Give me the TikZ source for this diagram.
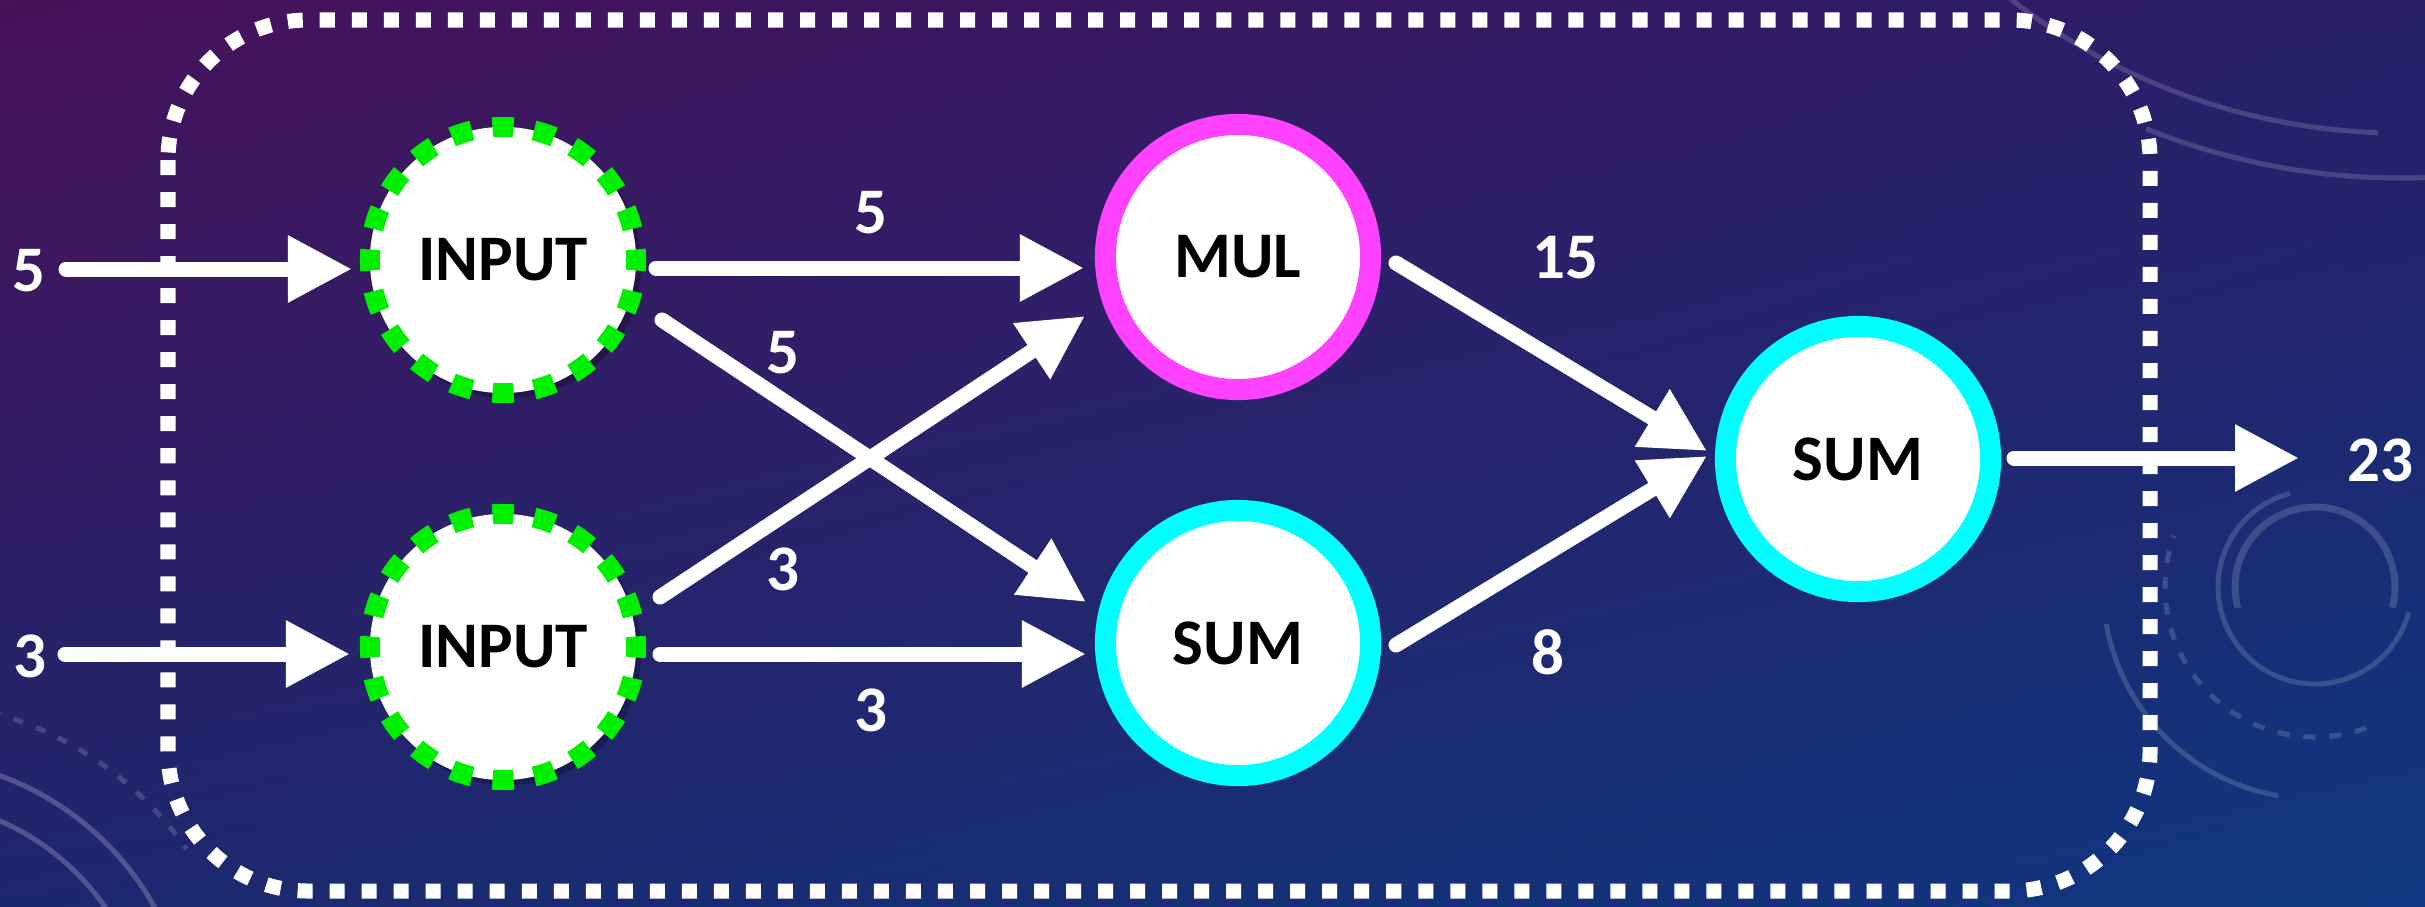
\documentclass[tikz,border=0pt]{standalone}
\usepackage{fontspec}
\setmainfont{Carlito}
\usetikzlibrary{arrows.meta,shadows,shadings}

\definecolor{bgul}{RGB}{72,17,90}
\definecolor{bgur}{RGB}{40,31,104}
\definecolor{bgll}{RGB}{28,40,110}
\definecolor{bglr}{RGB}{15,54,128}
\definecolor{ringmag}{RGB}{255,66,255}
\definecolor{ringcyan}{RGB}{0,255,255}
\definecolor{ringgreen}{RGB}{0,240,0}

\begin{document}
\begin{tikzpicture}[x=0.01cm,y=-0.01cm,
  txt/.style={font=\bfseries\fontsize{18.5}{22}\selectfont},
  lbl/.style={txt, text=white, inner sep=0pt},
  opnode/.style={circle, fill=white, minimum size=2.65cm, line width=0.21cm,
    inner sep=0pt, txt, text=black,
    drop shadow={shadow xshift=0.05cm, shadow yshift=-0.05cm, opacity=0.25, fill=black}},
  mulnode/.style={opnode, draw=ringmag},
  sumnode/.style={opnode, draw=ringcyan},
  innode/.style={opnode, minimum size=2.66cm, line width=0.2cm, draw=ringgreen,
    dash pattern=on 0.21cm off 0.2079cm, dash phase=0.105cm},
  arr/.style={draw=white, line width=0.15cm, line cap=round,
    -{Triangle[length=0.64cm,width=0.63cm]}},
  hud/.style={draw=white, draw opacity=0.16, line width=0.05cm},
  frame/.style={draw=white, line width=0.15cm, dash pattern=on 0.15cm off 0.17cm,
    rounded corners=1.4cm}
]
\useasboundingbox (0,0) rectangle (2425,906);

% backdrop
\shade[upper left=bgul, upper right=bgur, lower left=bgll, lower right=bglr]
  (0,0) rectangle (2425,906);

% faint ornaments in the backdrop
\draw[hud] (2400,-500) ++(128:633) arc[start angle=128, end angle=92, radius=633];
\draw[hud] (2400,-500) ++(112:678) arc[start angle=112, end angle=80, radius=678];
\draw[hud, line width=0.07cm] (2315,587) ++(165:80) arc[start angle=165, end angle=375, radius=80];
\draw[hud] (2315,587) ++(15:97) arc[start angle=15, end angle=255, radius=97];
\draw[hud, dash pattern=on 0.12cm off 0.14cm] (2315,587) ++(70:150) arc[start angle=70, end angle=200, radius=150];
\draw[hud] (2315,587) ++(100:212) arc[start angle=100, end angle=170, radius=212];
\draw[hud, draw opacity=0.22] (-100,1050) ++(280:250) arc[start angle=280, end angle=335, radius=250];
\draw[hud, draw opacity=0.22] (-100,1050) ++(278:292) arc[start angle=278, end angle=338, radius=292];
\draw[hud, dash pattern=on 0.1cm off 0.14cm] (-100,1050) ++(285:350) arc[start angle=285, end angle=325, radius=350];

% dotted frame around the graph
\draw[frame] (168,20) rectangle (2150,891);

% operation nodes
\node[innode]  (in1)  at (503,260)  {INPUT};
\node[innode]  (in2)  at (503,647)  {INPUT};
\node[mulnode] (mul)  at (1238,257) {MUL};
\node[sumnode] (sum1) at (1238,643) {SUM};
\node[sumnode] (sum2) at (1858,459) {SUM};

% external values
\node[lbl] (x5)  at (29,271)   {5};
\node[lbl] (x3)  at (30,656)   {3};
\node[lbl] (res) at (2380,460) {23};

% values carried along the edges
\node[lbl] (v1) at (871,213)  {5};
\node[lbl] (v2) at (783,353)  {5};
\node[lbl] (v3) at (783,569)  {3};
\node[lbl] (v4) at (871,710)  {3};
\node[lbl] (v5) at (1565,258) {15};
\node[lbl] (v6) at (1548,652) {8};

% edges
\draw[arr] ([shift={(37,-2)}]x5.center)  -- ([shift={(-151,9)}]in1.center);
\draw[arr] ([shift={(35,-2)}]x3.center)  -- ([shift={(-153,7)}]in2.center);
\draw[arr] ([shift={(153,8)}]in1.center) -- ([shift={(-154,11)}]mul.center);
\draw[arr] ([shift={(159,60)}]in1.center) -- ([shift={(-152,-41)}]sum1.center);
\draw[arr] ([shift={(157,-50)}]in2.center) -- ([shift={(-153,59)}]mul.center);
\draw[arr] ([shift={(157,7)}]in2.center) -- ([shift={(-152,11)}]sum1.center);
\draw[arr] ([shift={(158,6)}]mul.center) -- ([shift={(-151,-8)}]sum2.center);
\draw[arr] ([shift={(158,2)}]sum1.center) -- ([shift={(-151,-3)}]sum2.center);
\draw[arr] ([shift={(156,-1)}]sum2.center) -- ([shift={(-81,-2)}]res.center);
\end{tikzpicture}
\end{document}
